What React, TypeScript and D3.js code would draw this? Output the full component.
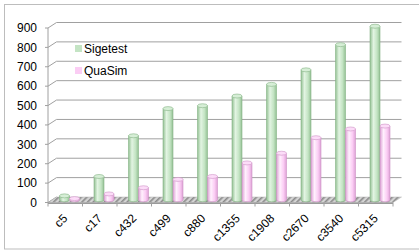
import React from 'react';
import * as d3 from 'd3';

const categories = ['c5', 'c17', 'c432', 'c499', 'c880', 'c1355', 'c1908', 'c2670', 'c3540', 'c5315'];
const seriesNames = ['Sigetest', 'QuaSim'];
const sigetest = [20, 120, 330, 470, 485, 535, 595, 670, 800, 895];
const quasim = [6, 30, 62, 105, 120, 190, 240, 320, 365, 380];
const yTicks = [0, 100, 200, 300, 400, 500, 600, 700, 800, 900];

const colors = {
  Sigetest: { light: '#e2f4e2', mid: '#c4e4c4', dark: '#94c194', line: '#86b486', top: '#d6eed6' },
  QuaSim: { light: '#fff0fd', mid: '#fbcdf4', dark: '#dea2d6', line: '#cf93c6', top: '#fcdcf8' },
};

// depth of the 3d box
const DX = 8.5;
const DY = -5.5;

export default function App() {
  const width = 419;
  const height = 251;

  const x = d3.scaleBand().domain(categories).range([48, 393]);
  const y = d3.scaleLinear().domain([0, 900]).range([202.5, 28]);
  const inner = d3.scaleBand().domain(seriesNames).range([0, x.bandwidth()]).paddingOuter(0.725);

  const data = categories.map((c, i) => ({ cat: c, Sigetest: sigetest[i], QuaSim: quasim[i] }));

  const x0 = x.range()[0];
  const x1 = x.range()[1];
  const y0 = y(0);
  const rx = inner.bandwidth() / 2;
  const ry = 2;

  return (
    <svg width={width} height={height} style={{ position: 'absolute', left: 0, top: 0 }}
      fontFamily="Liberation Sans, Arial, sans-serif">
      <defs>
        {seriesNames.map(s => (
          <linearGradient key={s} id={`g-${s}`} x1="0" x2="1" y1="0" y2="0">
            <stop offset="0" stopColor={colors[s].dark} />
            <stop offset="0.35" stopColor={colors[s].light} />
            <stop offset="0.7" stopColor={colors[s].mid} />
            <stop offset="1" stopColor={colors[s].dark} />
          </linearGradient>
        ))}
        <pattern id="hatch" width="4" height="4" patternUnits="userSpaceOnUse" patternTransform="rotate(45)">
          <rect width="4" height="4" fill="#d4d4d4" />
          <rect width="1.6" height="4" fill="#8a8a8a" />
        </pattern>
      </defs>

      <rect x={4.5} y={4.5} width={420} height={244.5} fill="#fff" stroke="#bdbdbd" />

      {/* back wall gridlines and side wall lines */}
      {yTicks.map(t => (
        <g key={t}>
          {t > 0 && (
            <line x1={x0 + DX} x2={x1 + DX} y1={y(t) + DY} y2={y(t) + DY} stroke="#a0a0a0" strokeWidth={1} />
          )}
          <line x1={x0} x2={x0 + DX} y1={y(t)} y2={y(t) + DY} stroke="#a0a0a0" strokeWidth={1} />
          <line x1={x0 - 3} x2={x0} y1={y(t)} y2={y(t)} stroke="#a0a0a0" />
          <text x={37} y={y(t)} dy="0.35em" textAnchor="end" fontSize={12} fill="#000">{t}</text>
        </g>
      ))}
      <line x1={x0} x2={x0} y1={y(0)} y2={y(900)} stroke="#a0a0a0" />

      {/* floor */}
      <path d={`M${x0},${y0} L${x1},${y0} L${x1 + DX},${y0 + DY} L${x0 + DX},${y0 + DY} Z`}
        fill="url(#hatch)" stroke="#b0b0b0" strokeWidth={0.5} />
      <path d={`M${x0},${y0} L${x1},${y0} L${x1},${y0 + 1.5} L${x0},${y0 + 1.5} Z`} fill="#9a9a9a" />

      {/* category ticks */}
      {categories.map(c => (
        <line key={c} x1={x(c)} x2={x(c)} y1={y0} y2={y0 + 4} stroke="#a0a0a0" />
      ))}
      <line x1={x1} x2={x1} y1={y0} y2={y0 + 4} stroke="#a0a0a0" />

      {/* cylinders */}
      {data.map(d => (
        <g key={d.cat}>
          {seriesNames.map(s => {
            const left = x(d.cat) + inner(s) + DX / 2;
            const cx = left + rx;
            const base = y(0) + DY / 2;
            const top = y(d[s]) + DY / 2;
            return (
              <g key={s}>
                <path
                  d={`M${left},${top} L${left},${base} A${rx},${ry} 0 0 0 ${left + 2 * rx},${base} L${left + 2 * rx},${top} Z`}
                  fill={`url(#g-${s})`} stroke={colors[s].line} strokeWidth={0.6} />
                <ellipse cx={cx} cy={top} rx={rx} ry={ry} fill={colors[s].top} stroke={colors[s].line} strokeWidth={0.6} />
              </g>
            );
          })}
        </g>
      ))}

      {/* category labels, slanted 45 degrees */}
      {categories.map(c => {
        const cx = x(c) + x.bandwidth() / 2;
        const k = Math.SQRT1_2;
        return (
          <text key={c} transform={`matrix(${k},${-k},${k},${k},${cx},216)`} textAnchor="end" dy="0.35em"
            fontSize={12} fill="#000">{c}</text>
        );
      })}

      {/* legend */}
      {seriesNames.map((s, i) => (
        <g key={s} transform={`translate(75,${45 + i * 22})`}>
          <rect width={7} height={7} fill={colors[s].mid} />
          <text x={9} y={4} dy="0.35em" fontSize={12} fill="#000">{s}</text>
        </g>
      ))}
    </svg>
  );
}
